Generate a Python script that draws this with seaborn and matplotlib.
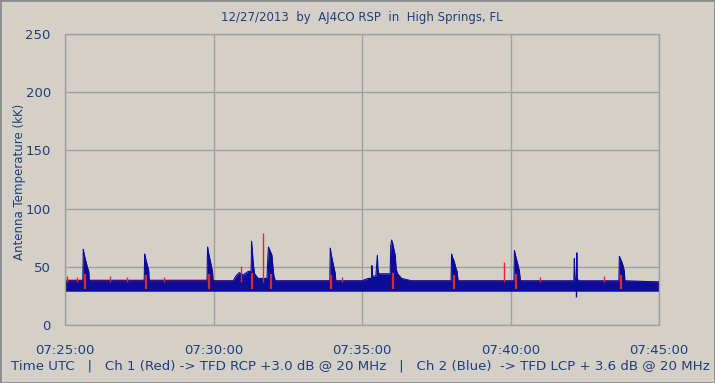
import numpy as np
import pandas as pd
import matplotlib
matplotlib.use("Agg")
import matplotlib.pyplot as plt
import seaborn as sns
from matplotlib.ticker import MultipleLocator
from matplotlib.patches import Rectangle

# seconds after 07:25:00 UTC
x_ticks = [0, 300, 600, 900, 1200]
x_tick_labels = ["07:25:00", "07:30:00", "07:35:00", "07:40:00", "07:45:00"]

# Ch 2 (blue) upper envelope of the trace
blue_t = [0, 36, 37, 39, 42, 45, 48, 49,
          160, 161, 163, 166, 169, 170,
          287, 288, 290, 293, 296, 298, 299,
          340, 345, 352, 360, 370, 376, 377, 379, 381, 383, 390,
          408, 410, 411, 414, 416, 418, 420, 422, 425,
          535, 536, 538, 541, 544, 546, 547,
          600, 612, 619, 620, 621, 628, 631, 632, 634, 640,
          657, 658, 660, 662, 664, 667, 669, 672, 680, 700,
          780, 781, 783, 786, 789, 792, 794,
          907, 908, 910, 913, 916, 918, 920,
          1028, 1029, 1030, 1033, 1034, 1035, 1037,
          1119, 1120, 1122, 1125, 1128, 1130, 1131, 1200]
blue_hi = [38, 38, 65, 60, 55, 50, 46, 38,
           38, 61, 57, 52, 47, 38,
           38, 67, 62, 56, 50, 46, 38,
           38, 42, 45, 43, 46, 46, 72, 60, 50, 44, 40,
           40, 60, 67, 64, 62, 60, 50, 42, 38,
           38, 66, 60, 54, 48, 44, 38,
           38, 40, 40, 51, 42, 42, 60, 48, 44, 44,
           44, 68, 73, 70, 66, 60, 48, 44, 40, 38,
           38, 61, 58, 55, 50, 46, 38,
           38, 64, 60, 55, 50, 46, 38,
           38, 57, 40, 40, 62, 40, 38,
           38, 59, 57, 54, 50, 46, 38, 37]
blue_floor = 29

# Ch 1 (red) band and the spots where it shows past the blue trace
red_t = [0, 290, 310, 600, 900, 1200]
red_hi = [39.5, 39.5, 38.6, 38.6, 38.6, 38]
red_lo = [31, 31, 31, 31, 31, 31]
red_spike_t = [4, 24, 91, 125, 200, 356, 401, 560, 887, 960, 1089]
red_spike_v = [42, 41, 42, 41, 41, 51, 79, 41, 54, 41, 42]
red_bump_t = [40, 163, 290, 378, 416, 538, 662, 785, 911, 1124]
red_bump_v = [44, 43, 44, 45, 44, 43, 45, 43, 44, 43]
dip_t = [1032]
dip_v = [24]

bg = "#D4D0C8"
navy = "#0C0C96"
red = "#E0282C"
txt = "#1F3F7A"
grid = "#A0A0A0"

sns.set_style("white")
plt.rcParams["font.family"] = ["DejaVu Sans"]

fig = plt.figure(figsize=(7.15, 3.83), dpi=100, facecolor=bg)
ax = fig.add_axes([65 / 715, 58 / 383, 594 / 715, 291 / 383])
ax.set_facecolor(bg)

blue = pd.DataFrame({"t": blue_t, "v": blue_hi})
ax.fill_between(red_t, red_lo, red_hi, color=red, lw=0, zorder=2)
ax.fill_between(blue["t"], blue_floor, blue["v"], color=navy, lw=0, zorder=3)
sns.lineplot(data=blue, x="t", y="v", color=navy, lw=0.8, ax=ax, zorder=3)
ax.vlines(red_spike_t, 37, red_spike_v, color=red, lw=1, zorder=4)
ax.vlines(red_bump_t, 31, red_bump_v, color=red, lw=1.6, zorder=4)
ax.vlines(dip_t, dip_v, 30, color=navy, lw=1, zorder=4)

ax.set_xlim(0, 1200)
ax.set_ylim(0, 250)
ax.set_xticks(x_ticks, x_tick_labels)
ax.xaxis.set_minor_locator(MultipleLocator(60))
ax.yaxis.set_major_locator(MultipleLocator(50))
ax.yaxis.set_minor_locator(MultipleLocator(10))
ax.set_xlabel("")
ax.set_ylabel("")
ax.grid(True, which="major", color=grid, lw=1, zorder=1)

for s in ax.spines.values():
    s.set_visible(False)
ax.spines["left"].set_position(("outward", 5))
ax.spines["bottom"].set_position(("outward", 3))
ax.add_patch(Rectangle((0, 0), 1, 1, transform=ax.transAxes, fill=False,
                       edgecolor=grid, lw=1, clip_on=False, zorder=5))

ax.tick_params(axis="y", which="major", length=1.2, width=1, color=txt,
               labelsize=9.5, labelcolor=txt, pad=4)
ax.tick_params(axis="y", which="minor", length=2.5, width=1, color=txt)
ax.tick_params(axis="x", which="major", length=5, width=1, color=txt,
               labelsize=9.5, labelcolor=txt, pad=6)
ax.tick_params(axis="x", which="minor", length=2, width=1, color=txt)

fig.text(362 / 715, 1 - 18 / 383, "12/27/2013  by  AJ4CO RSP  in  High Springs, FL",
         ha="center", va="center", fontsize=8.5, color=txt)
fig.text(20 / 715, 1 - 182 / 383, "Antenna Temperature (kK)", rotation=90,
         ha="center", va="center", fontsize=8.5, color=txt)
fig.text(11 / 715, 1 - 366 / 383,
         "Time UTC   |   Ch 1 (Red) -> TFD RCP +3.0 dB @ 20 MHz   |   "
         "Ch 2 (Blue)  -> TFD LCP + 3.6 dB @ 20 MHz",
         ha="left", va="center", fontsize=9.6, color=txt)
fig.patches.append(Rectangle((0, 0), 1, 1, transform=fig.transFigure, fill=False,
                             edgecolor="#8C8C8C", lw=2, figure=fig))

fig.savefig("out.png", dpi=100, facecolor=bg)
